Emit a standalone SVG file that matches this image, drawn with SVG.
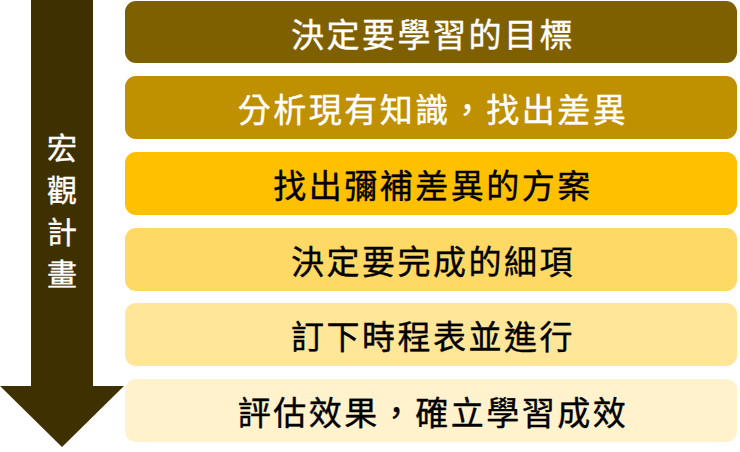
<svg xmlns="http://www.w3.org/2000/svg" width="740" height="452" viewBox="0 0 740 452">
<style>
.box text{font-family:"Noto Sans CJK TC","Noto Sans CJK SC",sans-serif;font-size:33px;font-weight:400;text-anchor:middle;dominant-baseline:central;letter-spacing:2.5px;stroke-width:0.4px;stroke-linejoin:round}
.lt{fill:#ffffff;stroke:#ffffff}
.dk{fill:#000000;stroke:#000000}
.side{font-family:"Noto Sans CJK TC","Noto Sans CJK SC",sans-serif;font-size:30px;font-weight:400;fill:#ffffff;stroke:#ffffff;stroke-width:0.4px;text-anchor:middle;dominant-baseline:central}
</style>
<rect width="740" height="452" fill="#ffffff"/>
<g id="connectors">
<polygon id="arrow" points="31,0 93,0 93,386 124,386 62,447 0,386 31,386" fill="#3f3000"/>
</g>
<g id="side-label">
<text class="side" x="62" y="146">宏</text>
<text class="side" x="62" y="188">觀</text>
<text class="side" x="62" y="230">計</text>
<text class="side" x="62" y="272">畫</text>
</g>
<g id="n1" class="box"><rect x="125" y="1" width="612" height="62" rx="11" fill="#7f6000"/><text class="lt" x="433" y="33">決定要學習的目標</text></g>
<g id="n2" class="box"><rect x="125" y="76" width="612" height="63" rx="11" fill="#bf9000"/><text class="lt" x="433" y="108">分析現有知識，找出差異</text></g>
<g id="n3" class="box"><rect x="125" y="152" width="612" height="63" rx="11" fill="#ffc000"/><text class="dk" x="433" y="184">找出彌補差異的方案</text></g>
<g id="n4" class="box"><rect x="125" y="228" width="612" height="63" rx="11" fill="#ffd966"/><text class="dk" x="433" y="260">決定要完成的細項</text></g>
<g id="n5" class="box"><rect x="125" y="303" width="612" height="63" rx="11" fill="#ffe699"/><text class="dk" x="433" y="335">訂下時程表並進行</text></g>
<g id="n6" class="box"><rect x="125" y="379" width="612" height="63" rx="11" fill="#fff2cc"/><text class="dk" x="433" y="411">評估效果，確立學習成效</text></g>
</svg>
